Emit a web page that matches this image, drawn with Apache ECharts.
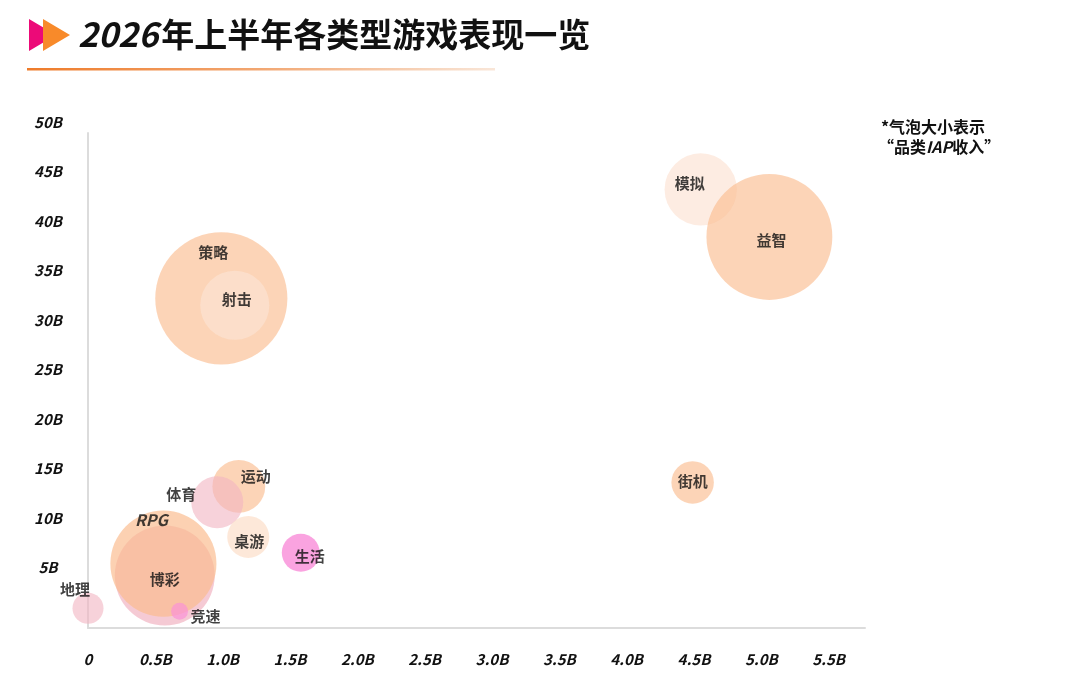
<!DOCTYPE html>
<html>
<head>
<meta charset="utf-8">
<script src="https://cdn.jsdelivr.net/npm/echarts@6/dist/echarts.min.js"></script>
<style>html,body{margin:0;padding:0;background:#fff;}#main{width:1075px;height:695px;}</style>
</head>
<body>
<div id="main"></div>
<script>
// ---- data ----
const categories = ['地理','博彩','RPG','竞速','运动','体育','桌游','生活','策略','射击','模拟','益智','街机'];
const xValues   = [0.00, 0.57, 0.56, 0.68, 1.12, 0.96, 1.19, 1.58, 0.99, 1.09, 4.55, 5.06, 4.49]; // B
const yValues   = [2.0, 5.3, 6.5, 1.7, 14.3, 12.7, 9.2, 7.6, 33.3, 32.6, 44.3, 39.5, 14.7];   // B
const iapValues = [1.07, 11.1, 12.5, 0.32, 3.1, 3.0, 1.96, 1.6, 19.4, 5.3, 5.8, 17.6, 2.0];    // bubble size
const xTicks = ['0','0.5B','1.0B','1.5B','2.0B','2.5B','3.0B','3.5B','4.0B','4.5B','5.0B','5.5B'];
const yTicks = ['','5B','10B','15B','20B','25B','30B','35B','40B','45B','50B'];

// ---- styles ----
const PEACH = 'rgba(250,188,142,0.8)';
const styleMap = {
  '地理': {c:'rgba(241,180,193,0.75)', o:[-13,-19]},
  '博彩': {c:'rgba(241,178,192,0.85)', o:[0,4]},
  'RPG':  {c:'rgba(250,188,142,0.85)', o:[-12,-44]},
  '竞速': {c:'rgba(250,145,215,0.85)', o:[26,5]},
  '运动': {c:PEACH, o:[17,-10]},
  '体育': {c:'rgba(241,180,193,0.75)', o:[-36,-8]},
  '桌游': {c:'rgba(252,216,192,0.75)', o:[1,4]},
  '生活': {c:'rgba(248,120,210,0.85)', o:[9,4]},
  '策略': {c:PEACH, o:[-8,-46]},
  '射击': {c:'rgba(252,228,212,0.8)', o:[2,-6]},
  '模拟': {c:'rgba(252,222,204,0.7)', o:[-11,-6]},
  '益智': {c:PEACH, o:[2,3]},
  '街机': {c:PEACH, o:[0,-1]}
};
const FONT = '"Noto Sans CJK SC", "Noto Sans", sans-serif';

const seriesData = categories.map((n,i)=>({
  name:n,
  value:[xValues[i], yValues[i], iapValues[i]],
  itemStyle:{color:styleMap[n].c},
  label:{offset:styleMap[n].o, fontStyle:/^[A-Za-z]+$/.test(n)?'italic':'normal', fontSize:/^[A-Za-z]+$/.test(n)?16:15}
}));

const chart = echarts.init(document.getElementById('main'));
chart.setOption({
  animation:false,
  grid:{left:88, right:1075-865, top:133, bottom:695-628, containLabel:false},
  xAxis:{
    type:'value', min:0, max:5.77, interval:0.5,
    axisLine:{show:true, lineStyle:{color:'#dcdcdc', width:2}},
    axisTick:{show:false}, splitLine:{show:false},
    axisLabel:{
      margin:24, color:'#111', fontSize:15, fontStyle:'italic', fontWeight:'bold', fontFamily:FONT,
      formatter:(v)=>{const k=Math.round(v/0.5); return Math.abs(k*0.5-v)<1e-6 && k<xTicks.length ? xTicks[k] : '';}
    }
  },
  yAxis:{
    type:'value', min:0, max:50, interval:5,
    axisLine:{show:true, lineStyle:{color:'#dcdcdc', width:2}},
    axisTick:{show:false}, splitLine:{show:false},
    axisLabel:{
      margin:40, align:'center', verticalAlign:'bottom', lineHeight:22,
      color:'#111', fontSize:15, fontStyle:'italic', fontWeight:'bold', fontFamily:FONT,
      formatter:(v)=>{const k=Math.round(v/5); return yTicks[k]||'';}
    }
  },
  series:[{
    type:'scatter',
    data:seriesData,
    symbolSize:(val)=>30*Math.sqrt(val[2]),
    label:{show:true, position:'inside', formatter:'{b}', color:'#111', fontSize:15, fontWeight:'bold', fontFamily:FONT},
    emphasis:{disabled:true}
  }],
  graphic:[
    {type:'polygon', shape:{points:[[29,19],[29,51],[56,35]]}, style:{fill:'#EC0A78'}},
    {type:'polygon', shape:{points:[[43,19],[43,51],[70,35]]}, style:{fill:'#F88A2A'}},
    {type:'text', left:78, top:17, style:{
      text:'{d|2026}{c|年上半年各类型游戏表现一览}',
      rich:{
        d:{font:'italic bold 34px '+FONT, fill:'#111', padding:[0,3,0,0]},
        c:{font:'bold 33px '+FONT, fill:'#111'}
      }}},
    {type:'rect', shape:{x:27, y:68, width:468, height:2.5},
      style:{fill:new echarts.graphic.LinearGradient(0,0,1,0,[{offset:0,color:'#EE7B2A'},{offset:0.5,color:'#F2A772'},{offset:1,color:'#F9E6D8'}])}},
    {type:'text', left:881, top:119, style:{text:'*气泡大小表示', font:'bold 16px '+FONT, fill:'#111'}},
    {type:'text', left:878, top:139, style:{
      text:'{a|“品类}{b|IAP}{a|收入”}',
      rich:{a:{font:'bold 16px '+FONT, fill:'#111'}, b:{font:'italic bold 16px '+FONT, fill:'#111'}}}}
  ]
});
</script>
</body>
</html>
